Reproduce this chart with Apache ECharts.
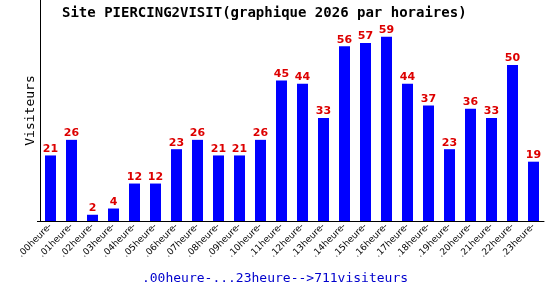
<!DOCTYPE html>
<html><head><meta charset="utf-8">
<script src="https://cdn.jsdelivr.net/npm/echarts@6/dist/echarts.min.js"></script>
<style>html,body{margin:0;padding:0;background:#fff}#c{width:550px;height:300px}</style>
</head><body><div id="c"></div>
<script>
var categories = ['.00heure-','.01heure-','.02heure-','.03heure-','.04heure-','.05heure-','.06heure-','.07heure-','.08heure-','.09heure-','.10heure-','.11heure-','.12heure-','.13heure-','.14heure-','.15heure-','.16heure-','.17heure-','.18heure-','.19heure-','.20heure-','.21heure-','.22heure-','.23heure-'];
var visitors = [21,26,2,4,12,12,23,26,21,21,26,45,44,33,56,57,59,44,37,23,36,33,50,19];
var titleText = 'Site PIERCING2VISIT(graphique 2026 par horaires)';
var footerText = '.00heure-...23heure-->711visiteurs';
var yName = 'Visiteurs';

var chart = echarts.init(document.getElementById('c'));
chart.setOption({
  animation: false,
  title: [{
    text: titleText, left: 57, top: 1,
    textStyle: {fontFamily: 'DejaVu Sans Mono', fontSize: 14, fontWeight: 'bold', color: '#000'}
  }, {
    text: footerText, left: 'center', top: 267,
    textStyle: {fontFamily: 'DejaVu Sans Mono', fontSize: 13, fontWeight: 'normal', color: '#0000cc'}
  }],
  grid: {left: 40, top: 0, width: 504, height: 221},
  xAxis: {
    type: 'category', data: categories,
    axisLine: {lineStyle: {color: '#000', width: 1}},
    axisTick: {show: false},
    axisLabel: {rotate: 45, fontSize: 9, fontFamily: 'DejaVu Sans', color: '#000', margin: 4, interval: 0}
  },
  yAxis: {
    type: 'value', min: 0, max: 70.8,
    name: yName, nameLocation: 'middle', nameGap: 3, nameRotate: 90,
    nameTextStyle: {fontFamily: 'DejaVu Sans Mono', fontSize: 13, color: '#000'},
    axisLine: {show: true, lineStyle: {color: '#000', width: 1}},
    axisTick: {show: true, length: 3, lineStyle: {color: '#000'}, customValues: [0]},
    axisLabel: {show: false},
    splitLine: {show: false}
  },
  series: [{
    type: 'bar', data: visitors, barWidth: 11,
    itemStyle: {color: '#0000ff'},
    label: {show: true, position: 'top', distance: 1, color: '#dd0000', fontWeight: 'bold', fontSize: 11, fontFamily: 'DejaVu Sans'}
  }]
});
</script></body></html>
